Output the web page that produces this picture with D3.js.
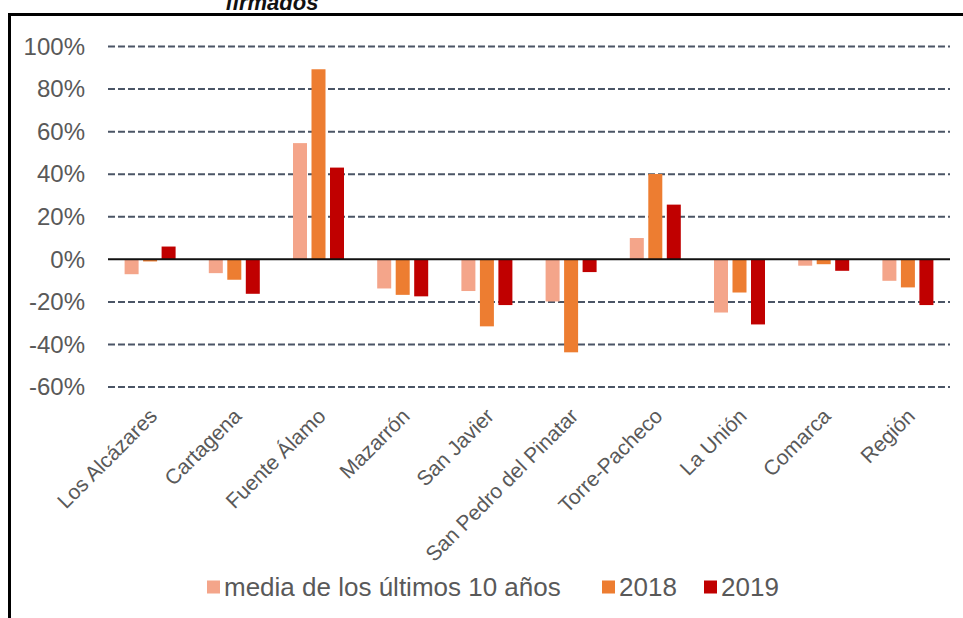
<!DOCTYPE html>
<html>
<head>
<meta charset="utf-8">
<script src="https://cdn.jsdelivr.net/npm/d3@7"></script>
<style>
  html, body { margin: 0; padding: 0; background: #fff; }
  svg { display: block; }
  text { font-family: "Liberation Sans", Arial, sans-serif; }
</style>
</head>
<body>
<svg id="chart" width="963" height="618"></svg>
<script>
const categories = ["Los Alcázares", "Cartagena", "Fuente Álamo", "Mazarrón", "San Javier",
  "San Pedro del Pinatar", "Torre-Pacheco", "La Unión", "Comarca", "Región"];
const seriesNames = ["media de los últimos 10 años", "2018", "2019"];
const media10 = [-7, -6.5, 54.6, -13.7, -14.9, -19.8, 10, -25, -3, -10.1];
const v2018 = [-1, -9.6, 89.3, -16.7, -31.5, -43.7, 40.1, -15.6, -2.3, -13.2];
const v2019 = [6, -16.2, 43.1, -17.4, -21.5, -6, 25.7, -30.6, -5.4, -21.5];
const seriesColors = ["#F4A58A", "#ED7D31", "#C00000"];
const yTicks = [-60, -40, -20, 0, 20, 40, 60, 80, 100];
const titleText = "firmados";

const seriesValues = [media10, v2018, v2019];
const svg = d3.select("#chart");

// frame
svg.append("path")
  .attr("d", "M9.5,618 L9.5,14.5 L963,14.5")
  .attr("fill", "none").attr("stroke", "#000").attr("stroke-width", 3);

// title (cut off at top, as in the source)
svg.append("text")
  .attr("x", 272).attr("y", 10)
  .attr("text-anchor", "middle")
  .attr("font-size", 22).attr("font-weight", "bold").attr("font-style", "italic")
  .attr("fill", "#111")
  .text(titleText);

const x0 = d3.scaleBand().domain(categories).range([108, 950]).padding(0);
const x1 = d3.scaleBand().domain(seriesNames).range([-25.5, 25.5]).paddingInner(0.243).paddingOuter(0);
const y = d3.scaleLinear().domain([-60, 100]).range([387, 46.5]);

// gridlines
svg.append("g").selectAll("line")
  .data(yTicks.filter(d => d !== 0))
  .join("line")
  .attr("x1", 108).attr("x2", 950)
  .attr("y1", d => y(d)).attr("y2", d => y(d))
  .attr("stroke", "#4B5566").attr("stroke-width", 2)
  .attr("stroke-dasharray", "7,3");

// y tick labels
const yAxis = d3.axisLeft(y).tickValues(yTicks).tickFormat(d => d + "%").tickSize(0).tickPadding(0);
const gy = svg.append("g").attr("transform", "translate(85,0)").call(yAxis);
gy.select(".domain").remove();
gy.selectAll("text")
  .attr("font-size", 24).attr("fill", "#595959")
  .style("font-family", "'Liberation Sans', Arial, sans-serif");

// bars
const groups = svg.append("g").selectAll("g")
  .data(categories)
  .join("g")
  .attr("transform", d => `translate(${x0(d) + x0.bandwidth() / 2},0)`);

groups.selectAll("rect")
  .data((c, i) => seriesNames.map((s, j) => ({ s, j, v: seriesValues[j][i] })))
  .join("rect")
  .attr("x", d => x1(d.s))
  .attr("width", x1.bandwidth())
  .attr("y", d => y(Math.max(0, d.v)))
  .attr("height", d => Math.abs(y(d.v) - y(0)))
  .attr("fill", d => seriesColors[d.j]);

// zero line
svg.append("line")
  .attr("x1", 108).attr("x2", 950)
  .attr("y1", y(0)).attr("y2", y(0))
  .attr("stroke", "#111").attr("stroke-width", 2);

// category labels
const xAxis = d3.axisBottom(x0).tickSize(0).tickPadding(0);
const gx = svg.append("g").attr("transform", "translate(0,407)").call(xAxis);
gx.select(".domain").remove();
gx.selectAll("text")
  .attr("font-size", 21).attr("fill", "#595959")
  .style("font-family", "'Liberation Sans', Arial, sans-serif")
  .attr("text-anchor", "end")
  .attr("dy", "0.7em")
  .attr("transform", "translate(-2,0) rotate(-45)");

// legend
const legendItems = [
  { name: seriesNames[0], x: 207 },
  { name: seriesNames[1], x: 602 },
  { name: seriesNames[2], x: 704 }
];
const lg = svg.append("g").selectAll("g")
  .data(legendItems)
  .join("g")
  .attr("transform", d => `translate(${d.x},587)`);
lg.append("rect")
  .attr("x", 0).attr("y", -6.5).attr("width", 13).attr("height", 13)
  .attr("fill", (d, i) => seriesColors[i]);
lg.append("text")
  .attr("x", 17).attr("y", 0).attr("dy", "0.36em")
  .attr("font-size", 26).attr("fill", "#595959")
  .text(d => d.name);
</script>
</body>
</html>
